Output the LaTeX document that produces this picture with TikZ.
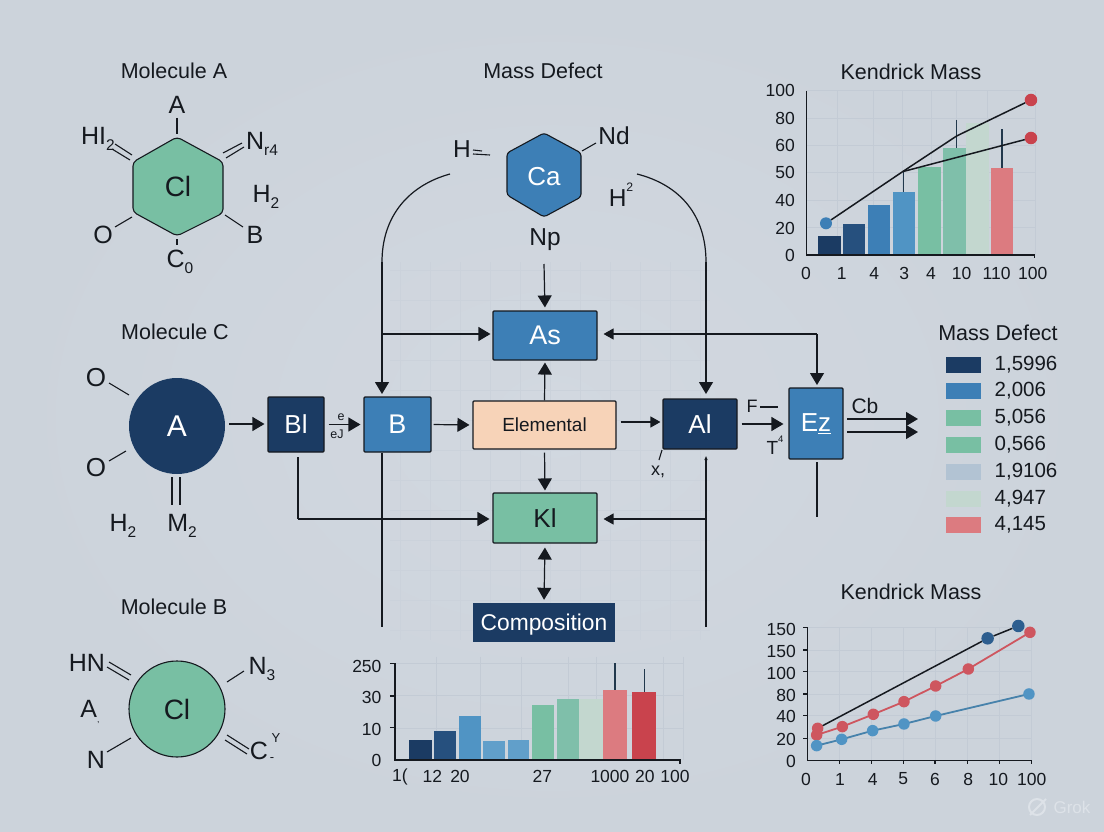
\documentclass[tikz,border=0pt]{standalone}
\usepackage{fontspec}
\setmainfont{Liberation Sans}
\usetikzlibrary{arrows.meta,calc}
\definecolor{ink}{HTML}{15191F}
\definecolor{bgin}{HTML}{D2D8E0}
\definecolor{bgout}{HTML}{CCD3DB}
\definecolor{navy}{HTML}{1B3B63}
\definecolor{navyb}{HTML}{26507E}
\definecolor{blue}{HTML}{3D7FB6}
\definecolor{blueb}{HTML}{5094C4}
\definecolor{green}{HTML}{78BFA3}
\definecolor{greenb}{HTML}{7FBFAA}
\definecolor{pale}{HTML}{C3D7CF}
\definecolor{slate}{HTML}{B2C3D3}
\definecolor{rose}{HTML}{DC7B80}
\definecolor{red}{HTML}{C9434D}
\definecolor{peach}{HTML}{F7D3B8}
\definecolor{gridc}{HTML}{C3CBD5}
\definecolor{mark}{HTML}{DDE2E8}
\newcommand{\lo}[1]{\raisebox{-0.22em}{\scalebox{0.62}{#1}}}
\newcommand{\hi}[1]{\raisebox{0.62em}{\scalebox{0.5}{#1}}}
\tikzset{
  fs/.style={font=\fontsize{#1}{#1}\selectfont},
  lab/.style={text=ink,inner sep=0pt,fs=#1},
  lab/.default=25,
  title/.style={text=ink,inner sep=0pt,fs=21.5},
  tickl/.style={text=ink,inner sep=0pt,fs=17.5},
  bond/.style={draw=ink,line width=1.1pt},
  wire/.style={draw=ink,line width=1.2pt},
  arr/.style={wire,-{Triangle[length=12pt,width=14pt]}},
  arrboth/.style={wire,{Triangle[length=12pt,width=14pt]}-{Triangle[length=12pt,width=14pt]}},
  block/.style={draw=ink,line width=1.1pt,rounded corners=1pt,inner sep=0pt,minimum width=#1},
  axis/.style={draw=ink,line width=1.3pt},
  gridl/.style={draw=gridc,line width=0.5pt},
  swatch/.style={inner sep=0pt,minimum width=35pt,minimum height=16pt},
  legt/.style={text=ink,inner sep=0pt,fs=20.5,anchor=west},
  zoom/.style={x=0.3333pt,y=-0.3333pt},
  dot/.style={circle,inner sep=0pt,minimum size=#1},
}
\begin{document}
\begin{tikzpicture}[x=1pt,y=-1pt]
\useasboundingbox (0,0) rectangle (1104,832);
\shade[inner color=bgin,outer color=bgout] (0,0) rectangle (1104,832);

% faint background grid of the central flow
\foreach \gx in {400,430,...,700} \draw[gridc!45!bgin,line width=0.4pt] (\gx,262) -- (\gx,640);
\foreach \gy in {270,300,...,630} \draw[gridc!45!bgin,line width=0.4pt] (390,\gy) -- (710,\gy);

% ---------- Molecule A
\node[title] (tA) at (174,71) {Molecule A};
\draw[bond,fill=green,rounded corners=4pt] (177,137) -- (223,162) -- (223,213) -- (177,236) -- (133,212) -- (133,162) -- cycle;
\node[lab=28] (clA) at (178,186) {Cl};
\node[lab] (aA) at (177,105) {A};
\node[lab] (hiA) at (98,139) {HI\lo{2}};
\node[lab] (nA) at (262,144) {N\lo{r4}};
\node[lab] (h2A) at (266,197) {H\lo{2}};
\node[lab] (bA) at (255,235) {B};
\node[lab] (oA) at (103,235) {O};
\node[lab] (cA) at (180,262) {C\lo{0}};
\draw[bond] (177,118) -- (177,134);
\draw[bond] (115,144) -- (132,155) (112,149) -- (130,160);
\draw[bond] (223,153) -- (242,143) (226,158) -- (244,147);
\draw[bond] (225,215) -- (243,227);
\draw[bond] (115,227) -- (132,217);
\draw[bond] (177,239) -- (177,245);

% ---------- Mass Defect (top hexagon)
\node[title] (tM) at (543,71) {Mass Defect};
\draw[draw=ink,line width=1.1pt,fill=blue,rounded corners=3pt] (544,133) -- (581,153) -- (581,197) -- (544,217) -- (507,195) -- (507,153) -- cycle;
\node[lab=26,text=white] (caH) at (544,177) {Ca};
\node[lab=24.5] (hH) at (462,149) {H};
\node[lab=24.5] (ndH) at (614,136) {Nd};
\node[lab=24.5] (h2H) at (621,195) {H\hi{2}};
\node[lab=24.5] (npH) at (545,240) {Np};
\draw[bond] (473,150) -- (482,151) (473,154) -- (490,155);
\draw[bond] (582,151) -- (596,143);

% ---------- Molecule C
\node[title] (tC) at (175,332) {Molecule C};
\node[circle,fill=navy,inner sep=0pt,minimum size=96pt,text=white,fs=30] (cirA) at (177,426) {A};
\node[lab=26] (oC1) at (96,378) {O};
\node[lab=26] (oC2) at (96,468) {O};
\node[lab] (h2C) at (123,526) {H\lo{2}};
\node[lab] (m2C) at (182,526) {M\lo{2}};
\draw[bond] (109,383) -- (129,395);
\draw[bond] (109,461) -- (126,451);
\draw[bond] (172,477) -- (172,505) (180,477) -- (180,505);

% ---------- Molecule B
\node[title] (tB) at (174,607) {Molecule B};
\node[circle,draw=ink,line width=1.1pt,fill=green,inner sep=0pt,minimum size=96pt,text=ink,fs=28] (cirB) at (177,709) {Cl};
\node[lab] (hnB) at (87,663) {HN};
\node[lab] (n3B) at (262,669) {N\lo{3}};
\node[lab] (aB) at (90,712) {A\lo{\fontsize{14}{14}\selectfont ,}};
\node[lab] (nB) at (96,760) {N};
\node[lab] (cB) at (259,751) {C};
\node[lab=13] (cBy) at (276,738) {Y};
\node[lab=13] (cBm) at (272,760) {-};
\draw[bond] (109,662) -- (131,675) (107,667) -- (129,680);
\draw[bond] (227,682) -- (244,671);
\draw[bond] (107,752) -- (131,738);
\draw[bond] (227,735) -- (249,749) (225,740) -- (247,754);

% ---------- flow blocks
\node[block=56pt,fill=navy,minimum height=55pt,text=white,fs=26] (Bl) at (296,424.5) {Bl};
\node[block=67pt,fill=blue,minimum height=55pt,text=white,fs=27] (Bb) at (397.5,424.5) {B};
\node[block=104pt,fill=blue,minimum height=49pt,text=white,fs=27] (As) at (545,335.5) {As};
\node[block=143pt,fill=peach,minimum height=48pt,text=ink,fs=19] (El) at (544.5,425) {Elemental};
\node[block=104pt,fill=green,minimum height=50pt,text=ink,fs=26] (Kl) at (545,518) {Kl};
\node[inner sep=0pt,fill=navy,minimum width=142pt,minimum height=39pt,text=white,fs=22.8,text height=18pt,text depth=2pt] (Co) at (544,622.5) {Composition};
\node[block=74pt,fill=navy,minimum height=50pt,text=white,fs=26] (Al) at (700,424) {Al};
\node[block=54pt,fill=blue,minimum height=71pt,text=white,fs=26] (Ez) at (816,423.5) {E\underline{z}};

\node[lab=12.5] (le1) at (341,417) {e};
\node[lab=12.5] (le2) at (337,434) {eJ};
\node[lab=18] (lx) at (658,472) {x,};
\node[lab=18] (lF) at (752,406) {F};
\node[lab=19] (lT) at (775,445) {T\hi{4}};
\node[lab=21] (lCb) at (865,406) {Cb};

% named free ends and entry points
\coordinate (cl) at (450,174);
\coordinate (cr) at (637,174);
\coordinate (clb) at (382,262);
\coordinate (crb) at (706,262);
\coordinate (bin) at (382,397);
\coordinate (alin) at (706,399);
\coordinate (bdown) at (382,627);
\coordinate (aldown) at (706,627);
\coordinate (alup) at (706,456);
\coordinate (bljoin) at (298,519);
\coordinate (bltop) at (298,457);
\coordinate (asj) at (382,334);
\coordinate (rj) at (706,519);
\coordinate (ezin) at (817,388);
\coordinate (ezj) at (817,334);
\coordinate (npend) at (544,264);
\coordinate (ezd1) at (817,462);
\coordinate (ezd2) at (817,517);
\coordinate (o1a) at (847,419);
\coordinate (o1b) at (918,419);
\coordinate (o2a) at (847,432);
\coordinate (o2b) at (918,432);

% connectors
\draw[wire] (cl) .. controls (410,185) and (382,215) .. (clb);
\draw[arr,shorten >=3pt] (clb) -- (bin);
\draw[wire] (cr) .. controls (680,185) and (706,215) .. (crb);
\draw[arr,shorten >=5pt] (crb) -- (alin);
\draw[arr,shorten >=3pt] (npend) -- (As.north);
\draw[arr,shorten <=2pt,shorten >=3pt] (cirA.east) ++(2,-2) -- (Bl.west |- 0,424);
\draw[arr,shorten <=4pt,shorten >=3pt] (Bl.east) -- (Bb.west);
\draw[arr,shorten <=2pt,shorten >=3pt] (Bb.east) -- (El.west);
\draw[arr,shorten >=2pt] (asj) -- (As.west |- asj);
\draw[arr,shorten >=2pt] (El.north) -- (As.south);
\draw[arr,shorten <=3pt,shorten >=2pt] (El.south) -- (Kl.north);
\draw[arr,-{Triangle[length=10pt,width=11pt]},shorten <=4pt,shorten >=2pt] (El.east |- 0,422) -- (Al.west |- 0,422);
\draw[arr,shorten <=4pt,shorten >=5pt] (Al.east) -- (Ez.west |- Al.east);
\draw[bond] (760,407) -- (778,407);
\draw[arr,shorten >=3pt] (ezj) -- (ezin);
\draw[wire,-{Triangle[length=10pt,width=11pt]},shorten >=6pt] (ezj) -- (As.east |- ezj);
\draw[wire] (ezd1) -- (ezd2);
\draw[arr] (o1a) -- (o1b);
\draw[arr] (o2a) -- (o2b);
\draw[wire] (Bb.south -| bin) -- (bdown);
\draw[wire] (bltop) -- (bljoin);
\draw[arr,shorten >=3pt] (bljoin) -- (Kl.west |- bljoin);
\draw[wire,-{Triangle[length=4pt,width=3pt]}] (aldown) -- (alup);
\draw[wire,-{Triangle[length=10pt,width=11pt]},shorten >=6pt] (rj) -- (Kl.east |- rj);
\draw[arrboth,shorten <=4pt,shorten >=3pt] (Kl.south) -- (Co.north);
\draw[bond] (662,450) -- (659,460);

% ---------- Legend
\node[title] (tL) at (998,333) {Mass Defect};
\foreach \yy/\cc/\tt [count=\i] in {364.5/navy/{1,5996},391/blue/{2,006},418/green/{5,056},445/green/{0,566},472/slate/{1,9106},498.5/pale/{4,947},525/rose/{4,145}}{
  \node[swatch,fill=\cc] (sw\i) at (963.5,\yy) {};
  \node[legt] (lt\i) at (994.5,\yy) {\tt};
}

% ---------- Chart top right
\node[title] (tK1) at (911,72) {Kendrick Mass};
\begin{scope}[shift={(750,40)},zoom]
  \foreach \a in {262,370,458,545,620,712,855} \draw[gridl] (\a,152) -- (\a,645);
  \foreach \a in {152,235,315,397,480,562} \draw[gridl] (170,\a) -- (855,\a);
  \fill[navy] (205,645) rectangle (273,587);
  \fill[navyb] (280,645) rectangle (346,553);
  \fill[blue] (353,645) rectangle (420,496);
  \fill[blueb] (430,645) rectangle (495,455);
  \fill[green] (503,645) rectangle (572,380);
  \fill[greenb] (580,645) rectangle (647,323);
  \fill[pale] (647,645) rectangle (717,250);
  \fill[rose] (723,645) rectangle (790,384);
  \draw[draw=ink!70!blue,line width=1.3pt] (460,395) -- (460,455);
  \draw[draw=ink!70!blue,line width=1.3pt] (620,240) -- (620,323);
  \draw[draw=ink!70!blue,line width=1.3pt] (756,268) -- (756,384);
  \node[dot=12pt,fill=blue] (p1) at (228,550) {};
  \node[dot=12.5pt,fill=red] (p2) at (843,180) {};
  \node[dot=12.5pt,fill=red] (p3) at (843,294) {};
  \coordinate (pm) at (458,395);
  \coordinate (pn) at (620,288);
  \draw[draw=ink,line width=1.5pt] (p1) -- (pm) -- (pn) -- (p2);
  \draw[draw=ink,line width=1.5pt] (pm) -- (p3);
  \draw[axis] (170,152) -- (170,645) -- (853,645) -- (853,655);
  \foreach \v/\a in {100/152,80/235,60/315,50/397,40/480,20/565,0/645}
    \node[tickl,anchor=east] (ya\a) at (135,\a) {\v};
  \foreach \v/\a in {0/168,1/275,4/373,3/463,4/543,10/635,110/740,100/848}
    \node[tickl] (xa\a) at (\a,700) {\v};
\end{scope}

% ---------- Chart bottom centre
\begin{scope}[shift={(340,630)},zoom]
  \foreach \a in {290,420,545,685,770,970,1030} \draw[gridl] (\a,80) -- (\a,390);
  \foreach \a in {100,195,295} \draw[gridl] (165,\a) -- (1030,\a);
  \fill[navy] (207,390) rectangle (275,330);
  \fill[navyb] (282,390) rectangle (347,302);
  \fill[blueb] (356,390) rectangle (423,258);
  \fill[blueb!90!white] (430,390) rectangle (495,333);
  \fill[blueb!90!white] (503,390) rectangle (568,330);
  \fill[green] (575,390) rectangle (642,225);
  \fill[greenb] (650,390) rectangle (717,206);
  \fill[pale] (717,390) rectangle (790,206);
  \fill[rose] (790,390) rectangle (862,180);
  \fill[red] (876,390) rectangle (948,187);
  \draw[draw=ink!70!blue,line width=1.2pt] (825,100) -- (825,180);
  \draw[draw=ink!70!blue,line width=1.2pt] (914,118) -- (914,187);
  \draw[axis] (165,100) -- (165,390) -- (1020,390) -- (1020,402);
  \draw[axis] (150,100) -- (165,100) (150,198) -- (165,198) (150,293) -- (165,293);
  \foreach \v/\a in {250/108,30/203,10/298,0/392}
    \node[tickl,anchor=east] (yb\a) at (125,\a) {\v};
  \foreach \v/\a in {1(/180,12/277,20/360,27/607,1000/810,20/915,100/1005}
    \node[tickl] (xb\a) at (\a,440) {\v};
\end{scope}

% ---------- Chart bottom right
\node[title] (tK2) at (911,592) {Kendrick Mass};
\begin{scope}[shift={(750,570)},zoom]
  \foreach \a in {268,365,460,555,652,748,845} \draw[gridl] (\a,172) -- (\a,572);
  \foreach \a in {172,240,305,372,437,505} \draw[gridl] (172,\a) -- (845,\a);
  \draw[axis] (172,172) -- (172,572) -- (845,572);
  \foreach \a in {172,240,305,372,437,505} \draw[axis] (160,\a) -- (172,\a);
  \foreach \a in {268,365,460,555,652,748,845} \draw[axis] (\a,572) -- (\a,582);
  \coordinate (q0) at (203,475);
  \node[dot=12.5pt,fill=navyb!70!blue] (q1) at (713,205) {};
  \node[dot=12.5pt,fill=navyb!70!blue] (q2) at (805,168) {};
  \draw[draw=ink,line width=1.5pt] (q0) -- (q1) -- (q2);
  \draw[draw=red!90!white,line width=1.8pt] (200,495) -- (277,470) -- (370,433) -- (462,395) -- (557,348) -- (655,297) -- (840,187);
  \draw[draw=blueb!85!ink,line width=1.8pt] (200,527) -- (275,508) -- (368,482) -- (462,462) -- (557,438) -- (837,372);
  \foreach \px/\py [count=\i] in {203/475,200/495,277/470,370/433,462/395,557/348,655/297,840/187}
    \node[dot=11.5pt,fill=red!90!white] (r\i) at (\px,\py) {};
  \foreach \px/\py [count=\i] in {200/527,275/508,368/482,462/462,557/438,837/372}
    \node[dot=11.5pt,fill=blueb] (s\i) at (\px,\py) {};
  \foreach \v/\a in {150/178,150/243,100/310,80/375,40/440,20/508,0/573}
    \node[tickl,anchor=east] (yc\a) at (138,\a) {\v};
  \foreach \v/\a in {0/168,1/270,4/368,5/460,6/555,8/655,10/745,100/845}
    \node[tickl] (xc\a) at (\a,627) {\v};
\end{scope}

% ---------- watermark
\node[inner sep=0pt,circle,draw=mark,line width=2pt,minimum size=16pt] (wm) at (1037,807) {};
\draw[draw=mark,line width=2pt] (1030,815) -- (1046,799);
\node[inner sep=0pt,text=mark,fs=17] (wmt) at (1072,807) {Grok};
\end{tikzpicture}
\end{document}
